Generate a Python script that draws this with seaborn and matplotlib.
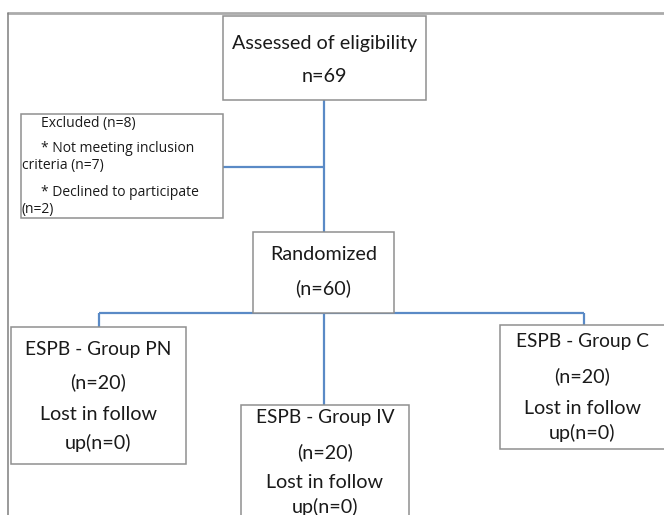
import matplotlib
matplotlib.use("Agg")
import matplotlib.pyplot as plt
import seaborn as sns
from matplotlib.patches import Rectangle

sns.set_theme(style="white")
plt.rcParams['font.family'] = ['Lato', 'DejaVu Sans']

# ---- content ----
assessed_label = "Assessed of eligibility"
assessed_n = 69
randomized_label = "Randomized"
randomized_n = 60
excluded_n = 8
not_meeting_n = 7
declined_n = 2
groups = ["ESPB - Group PN", "ESPB - Group IV", "ESPB - Group C"]
group_n = [20, 20, 20]
lost_n = [0, 0, 0]

# ---- layout (pixel coordinates, y downward) ----
W, H = 664, 515
fig = plt.figure(figsize=(W / 100, H / 100), dpi=100)
ax = fig.add_axes([0, 0, 1, 1])
ax.set_xlim(0, W)
ax.set_ylim(H, 0)
ax.axis("off")

box_edge = "#8f8f8f"
line_col = "#5a8ac6"
txt_col = "#1a1a1a"
fs = 14.2

def box(x0, y0, x1, y1):
    ax.add_patch(Rectangle((x0, y0), x1 - x0, y1 - y0, fill=True, facecolor="white",
                           edgecolor=box_edge, lw=1.1, zorder=3))

def conn(xs, ys):
    ax.plot(xs, ys, color=line_col, lw=1.6, zorder=2, solid_capstyle="butt")

# page frame
ax.plot([8, W], [13, 13], color="#ababab", lw=2.0, zorder=1)
ax.plot([8, 8], [13, H], color="#7f7f7f", lw=1.1, zorder=1)

# connectors
conn([324, 324], [100, 232])
conn([223, 324], [167, 167])
conn([99, 584], [313, 313])
conn([99, 99], [313, 327])
conn([324, 324], [313, 405])
conn([584, 584], [313, 325])

# assessed box
box(223, 16, 426, 100)
ax.text(324.5, 43, assessed_label, ha="center", va="center", fontsize=fs, color=txt_col, zorder=4)
ax.text(324.5, 76, f"n={assessed_n}", ha="center", va="center", fontsize=fs, color=txt_col, zorder=4)

# excluded box
box(21, 114, 223, 218)
efs = 10.0
efam = ['Open Sans', 'DejaVu Sans']
ax.text(41, 124, f"Excluded (n={excluded_n})", ha="left", va="center", fontsize=efs, family=efam, color=txt_col, zorder=4)
ax.text(41, 148, "* Not meeting inclusion", ha="left", va="center", fontsize=efs, family=efam, color=txt_col, zorder=4)
ax.text(22, 166, f"criteria (n={not_meeting_n})", ha="left", va="center", fontsize=efs, family=efam, color=txt_col, zorder=4)
ax.text(41, 192, "* Declined to participate", ha="left", va="center", fontsize=efs, family=efam, color=txt_col, zorder=4)
ax.text(22, 210, f"(n={declined_n})", ha="left", va="center", fontsize=efs, family=efam, color=txt_col, zorder=4)

# randomized box
box(253, 232, 394, 313)
ax.text(323.5, 255, randomized_label, ha="center", va="center", fontsize=fs, color=txt_col, zorder=4)
ax.text(323.5, 288, f"(n={randomized_n})", ha="center", va="center", fontsize=fs, color=txt_col, zorder=4)

# group boxes
gboxes = [(11, 327, 186, 464), (241, 405, 409, 530), (500, 325, 668, 449)]
gtext_y = [(349, 382, 415, 443), (417, 452, 483, 507), (342, 376, 409, 433)]
gcx = [98.5, 325, 582]
for name, n, lost, (x0, y0, x1, y1), ty, cx in zip(groups, group_n, lost_n, gboxes, gtext_y, gcx):
    box(x0, y0, x1, y1)
    ax.text(cx, ty[0], name, ha="center", va="center", fontsize=fs - 0.4, color=txt_col, zorder=4)
    ax.text(cx, ty[1], f"(n={n})", ha="center", va="center", fontsize=fs, color=txt_col, zorder=4)
    ax.text(cx, ty[2], "Lost in follow", ha="center", va="center", fontsize=fs, color=txt_col, zorder=4)
    ax.text(cx, ty[3], f"up(n={lost})", ha="center", va="center", fontsize=fs, color=txt_col, zorder=4)

fig.savefig("out.png", dpi=100)
